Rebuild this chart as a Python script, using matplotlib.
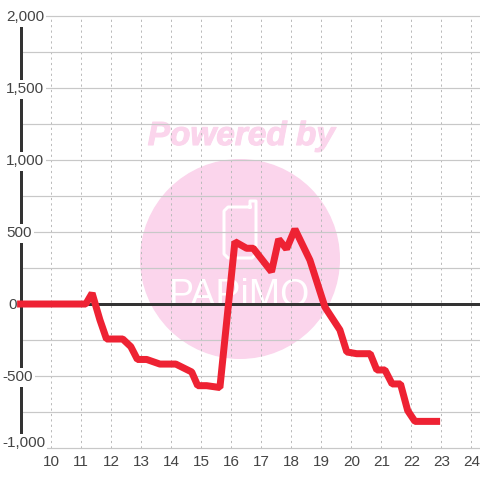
import matplotlib.pyplot as plt
import matplotlib.patheffects as pe
from matplotlib.patches import Circle

plt.rcParams["font.family"] = ["Liberation Sans", "DejaVu Sans"]

hours = [8.88, 11.17, 11.38, 11.64, 11.86, 12.4, 12.67, 12.89, 13.2, 13.64, 14.17, 14.7, 14.9,
         15.2, 15.64, 16.14, 16.53, 16.75, 17.36, 17.6, 17.86, 18.14, 18.64, 19.14, 19.2, 19.64,
         19.87, 20.2, 20.65, 20.87, 21.14, 21.38, 21.66, 21.9, 22.14, 22.98]
values = [0, 0, 75, -110, -243, -243, -296, -385, -385, -417, -417, -472, -567,
          -567, -580, 433, 387, 387, 224, 450, 382, 520, 305, -20, -40, -180,
          -333, -345, -345, -458, -458, -555, -555, -740, -815, -815]

x_ticks = list(range(10, 25))
y_major = [2000, 1500, 1000, 500, 0, -500, -1000]
y_labels = ["2,000", "1,500", "1,000", "500", "0", "-500", "-1,000"]
y_minor = [1750, 1250, 750, 250, -250, -750]

text_color = "#444444"
grid_color = "#c8c8c8"
axis_color = "#333333"
pink = "#fbd5ec"
px = 0.72

fig = plt.figure(figsize=(4.8, 4.8), dpi=100)

# watermark sits behind the chart, in pixel coordinates
wm = fig.add_axes([0, 0, 1, 1], zorder=0)
wm.set_xlim(0, 480)
wm.set_ylim(480, 0)
wm.axis("off")
wm.add_patch(Circle((240, 259), 100, fc=pink, ec="none"))
wm.text(241.5, 145, "Powered by", color=pink, fontsize=24, fontweight="bold",
        fontstyle="italic", ha="center", va="baseline",
        path_effects=[pe.withStroke(linewidth=0.8, foreground=pink)])
wm.plot([250, 228, 224, 224, 228, 252, 256, 256, 250, 250],
        [207, 207, 211, 254, 258, 258, 254, 201, 201, 207],
        color="white", lw=3 * px)
wm.text(240, 306, "PAPiMO", color="white", fontsize=27, ha="center", va="baseline")

ax = fig.add_axes([0, 0, 1, 1], zorder=1)
ax.patch.set_alpha(0)
ax.axis("off")
ax.set_xlim(8.31, 24.31)
ax.set_ylim(-1222, 2111)

ax.vlines(x_ticks, -1000, 2000, color="#bbbbbb", lw=1 * px, linestyles=(0, (2.2, 3.2)), zorder=1)
ax.hlines(y_major + y_minor, 9, 24.31, color=grid_color, lw=1.2 * px, zorder=1)
ax.vlines(9, -1000, 2000, color=axis_color, lw=3 * px, zorder=2)
ax.hlines(0, 9, 24.31, color=axis_color, lw=3 * px, zorder=2)

box = dict(fc="white", ec="none", pad=1.5)
for value, label in zip(y_major, y_labels):
    left = 8.51 if value > 0 else (8.58 if value == 0 else 8.38)
    y = -958 if value == -1000 else value
    ax.text(left, y - 10, label, color=text_color, fontsize=11, ha="left", va="center",
            bbox=box, zorder=3)

for hour in x_ticks:
    ax.text(hour + 0.02, -1095, str(hour), color=text_color, fontsize=11, ha="center", va="center", zorder=3)

ax.plot(hours, values, color="#ee2233", lw=7 * px, solid_capstyle="butt", solid_joinstyle="bevel", zorder=4)

fig.savefig("out.png", dpi=100)
